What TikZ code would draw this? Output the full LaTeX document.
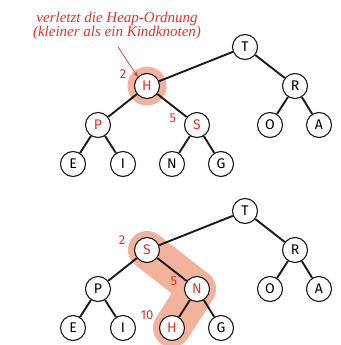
\documentclass[tikz,border=0pt]{standalone}
\usepackage{fontspec}
\setsansfont{Fira Sans}
\newfontfamily\notefont{Liberation Serif}
\usetikzlibrary{arrows.meta}
\definecolor{hlred}{HTML}{E5332A}
\definecolor{salmon}{HTML}{F2B29C}
\definecolor{edgegray}{HTML}{1A1A1A}
\pgfdeclarelayer{background}
\pgfsetlayers{background,main}
\tikzset{
  key/.style={circle, draw=edgegray, line width=1.1pt, fill=white, minimum size=25pt, inner sep=0pt, font=\sffamily\fontsize{14}{14}\selectfont},
  hl/.style={key, text=hlred},
  idx/.style={text=hlred, font=\sffamily\fontsize{13}{13}\selectfont, inner sep=0pt},
  link/.style={draw=edgegray, line width=1.9pt},
}
\begin{document}
\begin{tikzpicture}[x=1pt,y=-1pt]
\useasboundingbox (0,0) rectangle (340,345);
% ---- top tree ----
\node[key] (t1) at (245,47) {T};
\node[hl]  (h1) at (147,86) {H};
\node[key] (r1) at (295,86) {R};
\node[hl]  (p1) at (98,125) {P};
\node[hl]  (s1) at (197,125) {S};
\node[key] (o1) at (270,125) {O};
\node[key] (a1) at (319,125) {A};
\node[key] (e1) at (73,164) {E};
\node[key] (i1) at (123,164) {I};
\node[key] (n1) at (172,164) {N};
\node[key] (g1) at (221,164) {G};
\node[idx] (l2a) at (123,74) {2};
\node[idx] (l5a) at (173,118) {5};
\node[text=hlred, align=center, inner sep=0pt, font=\notefont\itshape\fontsize{15}{14.5}\selectfont] (note) at (117,26) {verletzt die Heap-Ordnung\\(kleiner als ein Kindknoten)};
\coordinate (arrS) at (118,47);
\draw[hlred, line width=0.7pt, -{Stealth[length=5pt,width=4pt]}] (arrS) -- (h1.north west);
% ---- bottom tree ----
\node[key] (t2) at (245,211) {T};
\node[hl]  (s2) at (147,250) {S};
\node[key] (r2) at (295,250) {R};
\node[key] (p2) at (98,289) {P};
\node[hl]  (n2) at (197,289) {N};
\node[key] (o2) at (270,289) {O};
\node[key] (a2) at (319,289) {A};
\node[key] (e2) at (73,328) {E};
\node[key] (i2) at (123,328) {I};
\node[hl]  (h2) at (172,328) {H};
\node[key] (g2) at (221,328) {G};
\node[idx] (l2b) at (122,240) {2};
\node[idx] (l5b) at (174,281) {5};
\node[idx] (l10) at (147,315) {10};
\begin{pgfonlayer}{background}
  \fill[salmon] (h1.center) circle (19.5);
  \draw[salmon, line width=38pt, line cap=round, line join=round] (s2.center) -- (n2.center) -- (h2.center);
  \foreach \a/\b in {t1/h1,t1/r1,h1/p1,h1/s1,r1/o1,r1/a1,p1/e1,p1/i1,s1/n1,s1/g1,
                     t2/s2,t2/r2,s2/p2,s2/n2,r2/o2,r2/a2,p2/e2,p2/i2,n2/h2,n2/g2}
    \draw[link] (\a) -- (\b);
\end{pgfonlayer}
\end{tikzpicture}
\end{document}
